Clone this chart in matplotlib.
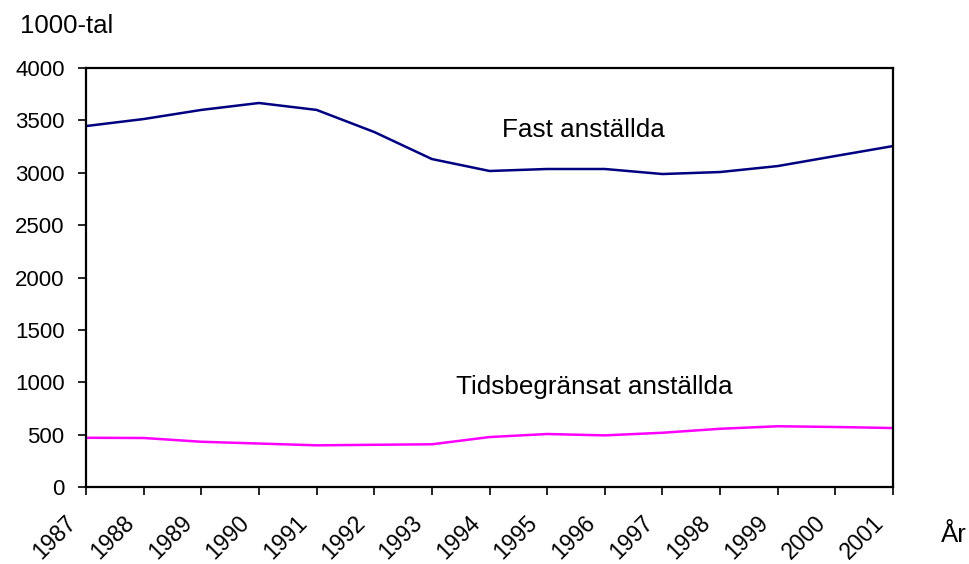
import numpy as np
import matplotlib.pyplot as plt
import matplotlib.transforms as mtransforms

plt.rcParams['font.family'] = ['Liberation Sans', 'DejaVu Sans']

# data (1000-tal)
years = list(range(1987, 2002))
fast = [3446, 3513, 3600, 3666, 3600, 3389, 3131, 3017, 3036, 3036, 2988, 3007, 3064, 3160, 3255]
tids = [470, 468, 432, 415, 398, 403, 408, 477, 506, 493, 518, 556, 580, 573, 563]
yticks = [0, 500, 1000, 1500, 2000, 2500, 3000, 3500, 4000]

fig = plt.figure(figsize=(9.69, 5.64), dpi=100)
ax = fig.add_axes([0.0888, 0.1365, 0.8328, 0.7429])

ax.plot(years, fast, color='#000080', linewidth=1.8)
ax.plot(years, tids, color='#ff00ff', linewidth=1.8)

ax.set_xlim(years[0], years[-1])
ax.set_ylim(0, 4000)
ax.set_yticks(yticks)
ax.set_xticks(years)
ax.set_xticklabels([str(y) for y in years], rotation=45, ha='right', va='center',
                   rotation_mode='anchor')
ax.tick_params(axis='both', direction='out', length=5.5, width=1.2, colors='black')
ax.tick_params(axis='y', pad=10, labelsize=16)
ax.tick_params(axis='x', pad=17.5, labelsize=16.5)
# shift the year labels a bit left, like the original
shift = mtransforms.ScaledTranslation(-0.13, 0, fig.dpi_scale_trans)
for lab in ax.get_xticklabels():
    lab.set_transform(lab.get_transform() + shift)
for s in ax.spines.values():
    s.set_linewidth(1.6)

ax.text(1994.22, 3341, 'Fast anställda', fontsize=18.8, ha='left', va='baseline')
ax.text(1993.42, 888, 'Tidsbegränsat anställda', fontsize=18.8, ha='left', va='baseline')

fig.text(20 / 969, 1 - 33 / 564, '1000-tal', fontsize=18.5, ha='left', va='baseline')
fig.text(941 / 969, 1 - 542 / 564, 'År', fontsize=18.5, ha='left', va='baseline')

fig.savefig('out.png', dpi=100)
